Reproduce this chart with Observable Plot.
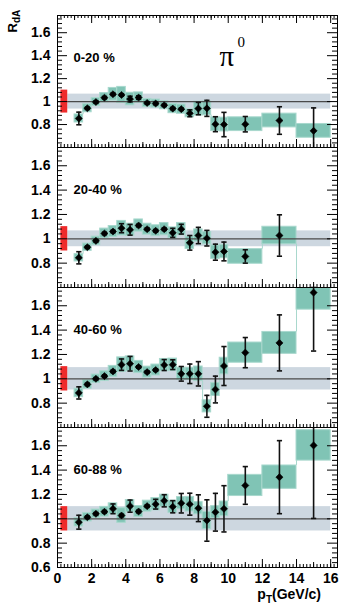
<!DOCTYPE html>
<html><head><meta charset="utf-8">
<script src="https://cdn.jsdelivr.net/npm/d3@7"></script>
<script src="https://cdn.jsdelivr.net/npm/@observablehq/plot@0.6"></script>
<style>
body{margin:0;background:#fff;}
#wrap{position:relative;width:341px;height:604px;overflow:hidden;font-family:"Liberation Sans",Arial,sans-serif;}
#wrap svg{position:absolute;left:0;}
#ylab{position:absolute;left:0px;top:13px;width:26px;height:16px;line-height:16px;text-align:center;transform:rotate(-90deg);font-weight:bold;font-size:13px;white-space:nowrap;}
#ylab sub{font-size:10px;vertical-align:-3px;}
#xlab{position:absolute;right:20px;top:586px;font-weight:bold;font-size:14px;white-space:nowrap;line-height:16px;}
#xlab sub{font-size:10px;vertical-align:-4px;}
</style></head><body>
<div id="wrap">
<div id="ylab">R<sub>dA</sub></div>
<div id="xlab">p<sub>T</sub>(GeV/c)</div>
</div>
<script>
// pT bins (GeV/c)
const binLo = [1.0,1.5,2.0,2.5,3.0,3.5,4.0,4.5,5.0,5.5,6.0,6.5,7.0,7.5,8.0,8.5,9.0,9.5,10,12,14];
const binHi = [1.5,2.0,2.5,3.0,3.5,4.0,4.5,5.0,5.5,6.0,6.5,7.0,7.5,8.0,8.5,9.0,9.5,10.0,12,14,16];
const centLabels = ["0-20 %","20-40 %","40-60 %","60-88 %"];

// 0-20 %
const val1  = [0.853,0.942,0.996,1.034,1.064,1.058,1.022,1.035,0.988,0.983,0.968,0.939,0.934,0.898,0.939,0.941,0.803,0.800,0.803,0.835,0.745];
const stat1 = [0.055,0.01,0.01,0.01,0.01,0.01,0.025,0.015,0.01,0.01,0.01,0.01,0.01,0.03,0.054,0.07,0.065,0.106,0.067,0.12,0.2];
const syst1 = [0.035,0.035,0.035,0.04,0.055,0.07,0.055,0.045,0.035,0.035,0.035,0.04,0.04,0.035,0.06,0.06,0.06,0.06,0.06,0.06,0.06];
// 20-40 %
const val2  = [0.844,0.931,0.983,1.044,1.060,1.087,1.074,1.109,1.079,1.066,1.079,1.049,1.079,0.967,1.027,1.005,0.890,0.896,0.855,1.027,0.45];
const stat2 = [0.05,0.01,0.01,0.01,0.01,0.037,0.044,0.01,0.01,0.01,0.01,0.037,0.04,0.06,0.067,0.064,0.066,0.077,0.055,0.17,0.15];
const syst2 = [0.03,0.03,0.035,0.04,0.045,0.06,0.05,0.05,0.045,0.045,0.05,0.045,0.05,0.05,0.05,0.05,0.055,0.055,0.06,0.072,0.1];
// 40-60 %
const val3  = [0.884,0.954,1.000,1.022,1.061,1.116,1.124,1.097,1.055,1.072,1.113,1.116,1.041,1.041,1.041,0.774,0.912,1.105,1.215,1.295,1.708];
const stat3 = [0.05,0.01,0.01,0.01,0.01,0.047,0.06,0.01,0.01,0.01,0.045,0.04,0.06,0.08,0.1,0.09,0.11,0.16,0.124,0.23,0.48];
const syst3 = [0.035,0.035,0.035,0.04,0.045,0.06,0.06,0.05,0.045,0.045,0.05,0.05,0.05,0.05,0.06,0.05,0.053,0.068,0.083,0.09,0.14];
// 60-88 %
const val4  = [0.972,1.013,1.041,1.058,1.082,1.027,1.104,1.060,1.104,1.120,1.148,1.099,1.128,1.120,1.087,0.986,1.054,1.082,1.274,1.342,1.603];
const stat4 = [0.057,0.01,0.01,0.01,0.04,0.01,0.05,0.01,0.01,0.04,0.05,0.05,0.08,0.09,0.11,0.17,0.155,0.19,0.155,0.3,0.6];
const syst4 = [0.035,0.035,0.035,0.04,0.045,0.06,0.05,0.045,0.045,0.05,0.05,0.05,0.05,0.06,0.05,0.07,0.05,0.06,0.087,0.096,0.125];

// global uncertainties around unity
const globalBand = [0.065,0.065,0.092,0.1];
const globalBandX = [0.6,16];
const normUnc = [0.1,0.1,0.1,0.1];
const normX = [0.2,0.6];

const yLabelTicks = [
  [0.8,1,1.2,1.4,1.6],
  [0.8,1,1.2,1.4,1.6],
  [0.8,1,1.2,1.4,1.6],
  [0.6,0.8,1,1.2,1.4,1.6]
];
const yMajor = [0.6,0.8,1.0,1.2,1.4,1.6];
const xLabelTicks = [0,2,4,6,8,10,12,14,16];

const allVals = [val1,val2,val3,val4];
const allStat = [stat1,stat2,stat3,stat4];
const allSyst = [syst1,syst2,syst3,syst4];

const layout = [
  {top:0,   mt:15, h:132, mb:2},
  {top:145, mt:2,  h:140, mb:2},
  {top:285, mt:2,  h:140, mb:2},
  {top:425, mt:2,  h:140, mb:37}
];
const W = 341, ML = 57, MR = 4, FW = W - ML - MR;
const yDomain = [0.6,1.75], xDomain = [0,16.4];

const yMinor = d3.range(0.64,1.75,0.04).filter(v => !yMajor.some(m => Math.abs(m - v) < 1e-6));
const xMinor = d3.range(0,16.4001,0.2);
const xMid = d3.range(1,16.4,2);

const capSymbol = {draw(ctx){ ctx.moveTo(-2.6,0); ctx.lineTo(2.6,0); }};
const fmt = d => String(+d.toFixed(1));

const teal = "#80c4b5", tealEdge = "#a8d8cd", grey = "#cdd7e0";
const wrap = document.getElementById("wrap");

for (let i = 0; i < 4; i++) {
  const L = layout[i];
  const rows = binLo.map((lo, j) => ({
    lo, hi: binHi[j], x: (lo + binHi[j]) / 2,
    v: allVals[i][j], stat: allStat[i][j], syst: allSyst[i][j]
  }));
  const caps = rows.flatMap(r => [{x: r.x, y: r.v - r.stat}, {x: r.x, y: r.v + r.stat}]);
  const conn = [];
  for (let j = 0; j < rows.length - 1; j++) {
    const a = rows[j], b = rows[j + 1];
    const aLo = a.v - a.syst, aHi = a.v + a.syst, bLo = b.v - b.syst, bHi = b.v + b.syst;
    if (bLo > aHi) conn.push({x: a.hi, y1: aHi, y2: bLo});
    else if (aLo > bHi) conn.push({x: a.hi, y1: bHi, y2: aLo});
  }
  const h = L.h;
  const marks = [
    Plot.rect([globalBand[i]], {x1: globalBandX[0], x2: globalBandX[1], y1: d => 1 - d, y2: d => 1 + d, fill: grey}),
    Plot.rect(rows, {x1: "lo", x2: "hi", y1: d => d.v - d.syst, y2: d => d.v + d.syst, fill: teal, stroke: tealEdge, strokeWidth: 1, clip: true}),
    Plot.ruleX(conn, {x: "x", y1: "y1", y2: "y2", stroke: tealEdge, strokeWidth: 1, clip: true}),
    Plot.ruleY([1], {x1: xDomain[0], x2: globalBandX[1], stroke: "#4a4a4a", strokeWidth: 1.2}),
    Plot.rect([normUnc[i]], {x1: normX[0], x2: normX[1], y1: d => 1 - d, y2: d => 1 + d, fill: "#ee2b2b"}),
    Plot.ruleX(rows, {x: "x", y1: d => d.v - d.stat, y2: d => d.v + d.stat, stroke: "#111", strokeWidth: 1.6, clip: true}),
    Plot.dot(caps, {x: "x", y: "y", symbol: capSymbol, r: 3, stroke: "#111", strokeWidth: 1.6, fill: "none", clip: true}),
    Plot.dot(rows, {x: "x", y: "v", symbol: "diamond2", r: 3.2, fill: "#000", stroke: "#000", strokeWidth: 0.6, clip: true}),
    // inward ticks: left and right
    Plot.tickY(yMajor, {y: d => d, insetRight: FW - 10, stroke: "#000"}),
    Plot.tickY(yMinor, {y: d => d, insetRight: FW - 5, stroke: "#000"}),
    Plot.tickY(yMajor, {y: d => d, insetLeft: FW - 10, stroke: "#000"}),
    Plot.tickY(yMinor, {y: d => d, insetLeft: FW - 5, stroke: "#000"}),
    // bottom ticks pointing up
    Plot.tickX(xMinor, {x: d => d, insetTop: h - 3, stroke: "#000"}),
    Plot.tickX(xMid, {x: d => d, insetTop: h - 5, stroke: "#000"}),
    Plot.tickX(xLabelTicks, {x: d => d, insetTop: h - 8, stroke: "#000"}),
    Plot.frame({stroke: "#000", strokeWidth: 1}),
    Plot.axisY(yLabelTicks[i], {anchor: "left", tickSize: 0, tickPadding: 7, tickFormat: fmt, fontSize: 14, fontWeight: "bold", fill: "#000"}),
    Plot.text([centLabels[i]], {frameAnchor: "top-left", dx: 16, dy: 37, textAnchor: "start", fontSize: 13, fontWeight: "bold", fill: "#000"})
  ];
  if (i === 0) {
    marks.push(
      Plot.tickX(xMinor, {x: d => d, insetBottom: h - 3, stroke: "#000"}),
      Plot.tickX(xMid, {x: d => d, insetBottom: h - 5, stroke: "#000"}),
      Plot.tickX(xLabelTicks, {x: d => d, insetBottom: h - 8, stroke: "#000"}),
      Plot.text(["π"], {frameAnchor: "top-left", dx: 162, dy: 30, fontSize: 29, fontFamily: "Liberation Serif, 'Times New Roman', serif", fill: "#000"}),
      Plot.text(["0"], {frameAnchor: "top-left", dx: 180, dy: 21, fontSize: 15, fontFamily: "Liberation Serif, 'Times New Roman', serif", fill: "#000"})
    );
  }
  if (i === 3) {
    marks.push(Plot.axisX(xLabelTicks, {anchor: "bottom", tickSize: 0, tickPadding: 6, fontSize: 14, fontWeight: "bold", fill: "#000"}));
  }
  const svg = Plot.plot({
    width: W, height: L.mt + h + L.mb,
    marginLeft: ML, marginRight: MR, marginTop: L.mt, marginBottom: L.mb,
    x: {domain: xDomain, axis: null},
    y: {domain: yDomain, axis: null},
    style: {background: "transparent", fontFamily: "'Liberation Sans', Arial, sans-serif", overflow: "visible", color: "#000"},
    marks
  });
  svg.style.top = L.top + "px";
  wrap.appendChild(svg);
}
</script>
</body></html>
